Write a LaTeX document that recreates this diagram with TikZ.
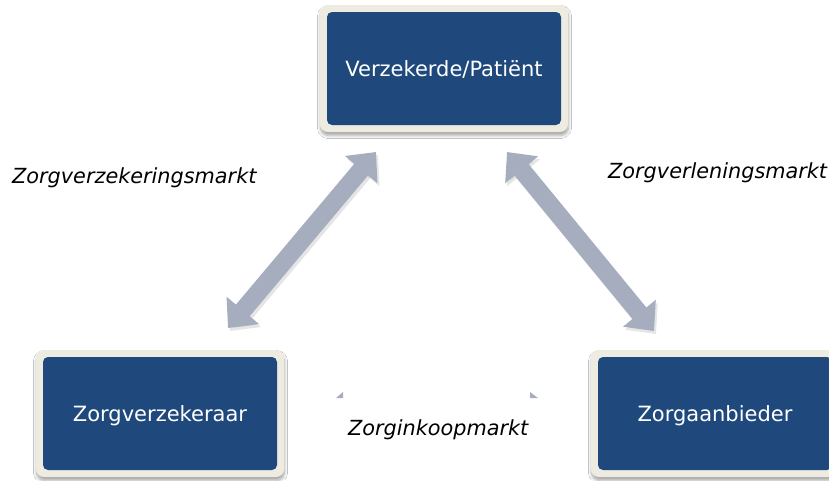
\documentclass[tikz,border=0pt]{standalone}
\usepackage{fontspec}
\setmainfont{DejaVu Sans}
\usetikzlibrary{arrows.meta,shadows.blur}
\definecolor{boxblue}{RGB}{31,73,124}
\definecolor{cream}{RGB}{238,235,224}
\definecolor{arrowgray}{RGB}{166,173,190}
\tikzset{
  framebox/.style={fill=cream, rounded corners=8pt, minimum width=248pt, minimum height=127pt, inner sep=0pt,
    blur shadow={shadow xshift=0.5pt, shadow yshift=-3.5pt, shadow blur radius=3pt, shadow blur steps=6, shadow opacity=35}},
  innerbox/.style={fill=boxblue, rounded corners=5pt, minimum width=234pt, minimum height=113pt, inner sep=0pt,
    text=white, font=\fontsize{21}{24}\selectfont, text height=15pt, text depth=0pt},
  market/.style={font=\fontsize{20.8}{24}\selectfont\itshape, inner sep=0pt, anchor=base west},
  bigarrow/.style={line width=18pt, draw=arrowgray, {Triangle[length=23pt,width=41pt]}-{Triangle[length=23pt,width=41pt]}},
  arrowshadow/.style={line width=18pt, draw=black, opacity=0.10, {Triangle[length=23pt,width=41pt]}-{Triangle[length=23pt,width=41pt]}},
}
\begin{document}
\begin{tikzpicture}[x=1pt,y=-1pt]
\useasboundingbox (0,0) rectangle (829,480);
\fill[white] (0,0) rectangle (829,480);

% boxes
\node[framebox] (vpf) at (444,68.5) {};
\node[innerbox] (vp) at (444,68.5) {Verzekerde/Patiënt};
\node[framebox] (zvf) at (160,413.5) {};
\node[innerbox] (zv) at (160,413.5) {Zorgverzekeraar};
\node[framebox] (zaf) at (715,413.5) {};
\node[innerbox] (za) at (715,413.5) {Zorgaanbieder};

% arrow end points
\coordinate (l1) at (228,328);
\coordinate (l2) at (376,152);
\coordinate (r1) at (507,152);
\coordinate (r2) at (654,331);

% shadows of arrows
\draw[arrowshadow, transform canvas={xshift=2pt,yshift=-3pt}] (l1) -- (l2);
\draw[arrowshadow, transform canvas={xshift=2pt,yshift=-3pt}] (r1) -- (r2);
% arrows
\draw[bigarrow] (l1) -- (l2);
\draw[bigarrow] (r1) -- (r2);

% small hidden-arrow tips
\coordinate (t1) at (336,398);
\coordinate (t2) at (538,398);
\fill[arrowgray] (t1) -- ++(7,0) -- ++(0,-6) -- cycle;
\fill[arrowgray] (t2) -- ++(-8,0) -- ++(0,-6) -- cycle;

% labels
\node[market] (m1) at (12,183) {Zorgverzekeringsmarkt};
\node[market] (m2) at (608,178) {Zorgverleningsmarkt};
\node[market] (m3) at (348,435) {Zorginkoopmarkt};
\end{tikzpicture}
\end{document}
